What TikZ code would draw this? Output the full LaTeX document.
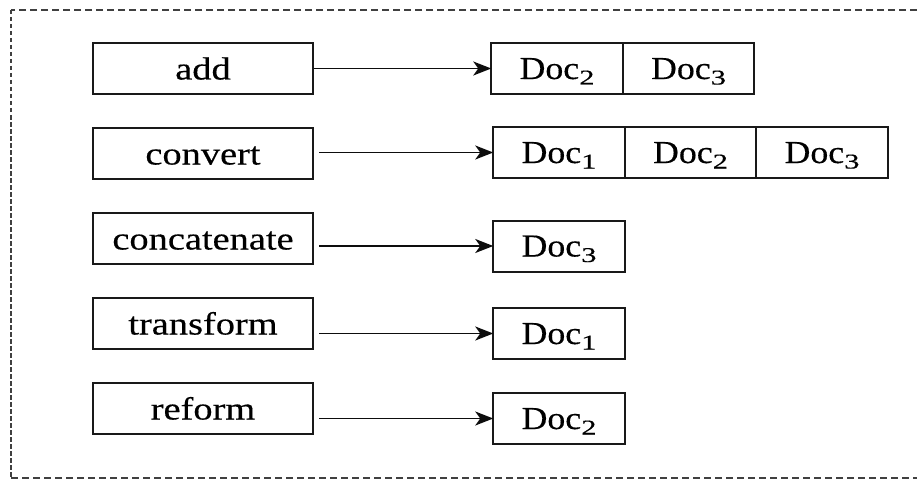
\documentclass[tikz,border=0pt]{standalone}
\usepackage{fontspec}
\setmainfont{Liberation Serif}
\newfontfamily\oplabelfont[FakeStretch=1.2,FakeBold=0.4]{Liberation Serif}
\newfontfamily\docfont[FakeStretch=1.12,FakeBold=0.4]{Liberation Serif}
\newfontfamily\docsubfont[FakeStretch=1.45,FakeBold=0.4]{Liberation Serif}
\usetikzlibrary{arrows.meta}

% document name with a lowered index
\newcommand\docname[1]{Doc\raisebox{-5.5pt}{\fontsize{21}{22}\docsubfont #1}}

\begin{document}
\begin{tikzpicture}[x=1pt,y=-1pt,
  opbox/.style={draw=black!90, line width=2pt, minimum width=220pt,
    minimum height=51pt, inner sep=0pt, text height=22pt, text depth=0pt,
    font={\fontsize{32}{36}\oplabelfont}},
  doccell/.style={draw=black!90, line width=2pt, minimum width=131.5pt,
    minimum height=51pt, inner sep=0pt, outer sep=0pt, text height=21pt,
    text depth=0pt, font={\fontsize{32}{36}\docfont}},
  link/.style={draw=black!95, line width=1.7pt,
    -{Stealth[length=18pt,width=14pt,inset=5pt]}},
  framebar/.style={draw=black!75, line width=1.6pt}]
\useasboundingbox (0,0) rectangle (917,484);

% dashed surrounding frame (open on the right)
\draw[framebar, dash pattern=on 7pt off 4pt] (917,10) -- (11,10);
\draw[framebar, dash pattern=on 7pt off 4pt] (11,478) -- (917,478);
\draw[framebar, dash pattern=on 4.5pt off 2.5pt] (11,10) -- (11,478);

% operations
\node[opbox] (op1) at (203,68.5) {add};
\node[opbox] (op2) at (203,153.5) {convert};
\node[opbox] (op3) at (203,238.5) {concatenate};
\node[opbox] (op4) at (203,323.5) {transform};
\node[opbox] (op5) at (203,408.5) {reform};

% resulting documents
\node[doccell] (d11) at (557,68.5) {\docname{2}};
\node[doccell, anchor=west] (d12) at (d11.east) {\docname{3}};

\node[doccell] (d21) at (559,152.5) {\docname{1}};
\node[doccell, anchor=west] (d22) at (d21.east) {\docname{2}};
\node[doccell, anchor=west] (d23) at (d22.east) {\docname{3}};

\node[doccell] (d31) at (559,246) {\docname{3}};
\node[doccell] (d41) at (559,333.5) {\docname{1}};
\node[doccell] (d51) at (559,418.5) {\docname{2}};

% connectors
\draw[link] (op1.east) -- (d11.west);
\draw[link] ([xshift=5pt]op2.east |- d21.west) -- (d21.west);
\draw[link] ([xshift=5pt]op3.east |- d31.west) -- (d31.west);
\draw[link] ([xshift=5pt]op4.east |- d41.west) -- (d41.west);
\draw[link] ([xshift=5pt]op5.east |- d51.west) -- (d51.west);
\end{tikzpicture}
\end{document}
